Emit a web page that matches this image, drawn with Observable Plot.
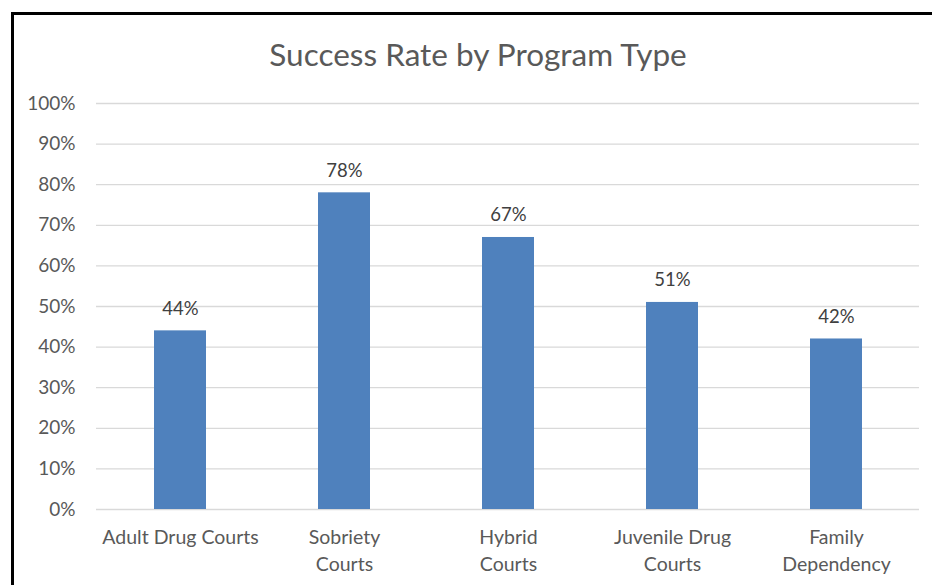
<!DOCTYPE html>
<html>
<head>
<meta charset="utf-8">
<script src="https://cdn.jsdelivr.net/npm/d3@7"></script>
<script src="https://cdn.jsdelivr.net/npm/@observablehq/plot@0.6"></script>
<style>
  html, body { margin: 0; padding: 0; background: #fff; }
  body { width: 932px; height: 585px; position: relative; overflow: hidden; font-family: Lato, "Open Sans", sans-serif; }
  #frame { position: absolute; left: 11px; top: 12px; width: 940px; height: 600px; border-left: 3px solid #000; border-top: 3px solid #000; box-sizing: border-box; }
  #title { position: absolute; left: 0; width: 956px; top: 35px; line-height: 38px; text-align: center; font-size: 31.5px; color: #595959; font-family: Lato, sans-serif; }
  #chart { position: absolute; left: 0; top: 0; }
</style>
</head>
<body>
<div id="frame"></div>
<div id="chart"></div>
<div id="title">Success Rate by Program Type</div>
<script>
const categories = ["Adult Drug Courts", "Sobriety Courts", "Hybrid Courts", "Juvenile Drug Courts", "Family Dependency"];
const tickLabels = ["Adult Drug Courts", "Sobriety\nCourts", "Hybrid\nCourts", "Juvenile Drug\nCourts", "Family\nDependency"];
const successRate = [44, 78, 67, 51, 42];
const yTicks = [0, 10, 20, 30, 40, 50, 60, 70, 80, 90, 100];

const data = categories.map((c, i) => ({category: c, value: successRate[i]}));
const labelOf = new Map(categories.map((c, i) => [c, tickLabels[i]]));

const chart = Plot.plot({
  width: 932,
  height: 585,
  marginTop: 103,
  marginBottom: 76,
  marginLeft: 96,
  marginRight: 13,
  style: {fontFamily: "Lato, sans-serif", fontSize: "16px", color: "#595959", background: "transparent"},
  x: {domain: categories, paddingInner: 0.684, paddingOuter: 0.342, label: null},
  y: {domain: [0, 100], label: null},
  marks: [
    Plot.gridY(yTicks, {stroke: "#d9d9d9", strokeOpacity: 1, strokeWidth: 1.3}),
    Plot.axisY(yTicks, {tickSize: 0, tickPadding: 21, tickFormat: d => d + "%", fontSize: 19, fill: "#595959", label: null}),
    Plot.axisX({tickSize: 0, tickPadding: 15, tickFormat: d => labelOf.get(d), fontSize: 19.5, fill: "#595959", lineHeight: 1.4, label: null}),
    Plot.barY(data, {x: "category", y: "value", fill: "#4f81bd"}),
    Plot.text(data, {x: "category", y: "value", text: d => d.value + "%", dy: -22, fontSize: 18.5, fill: "#404040"})
  ]
});
document.getElementById("chart").appendChild(chart);
</script>
</body>
</html>
